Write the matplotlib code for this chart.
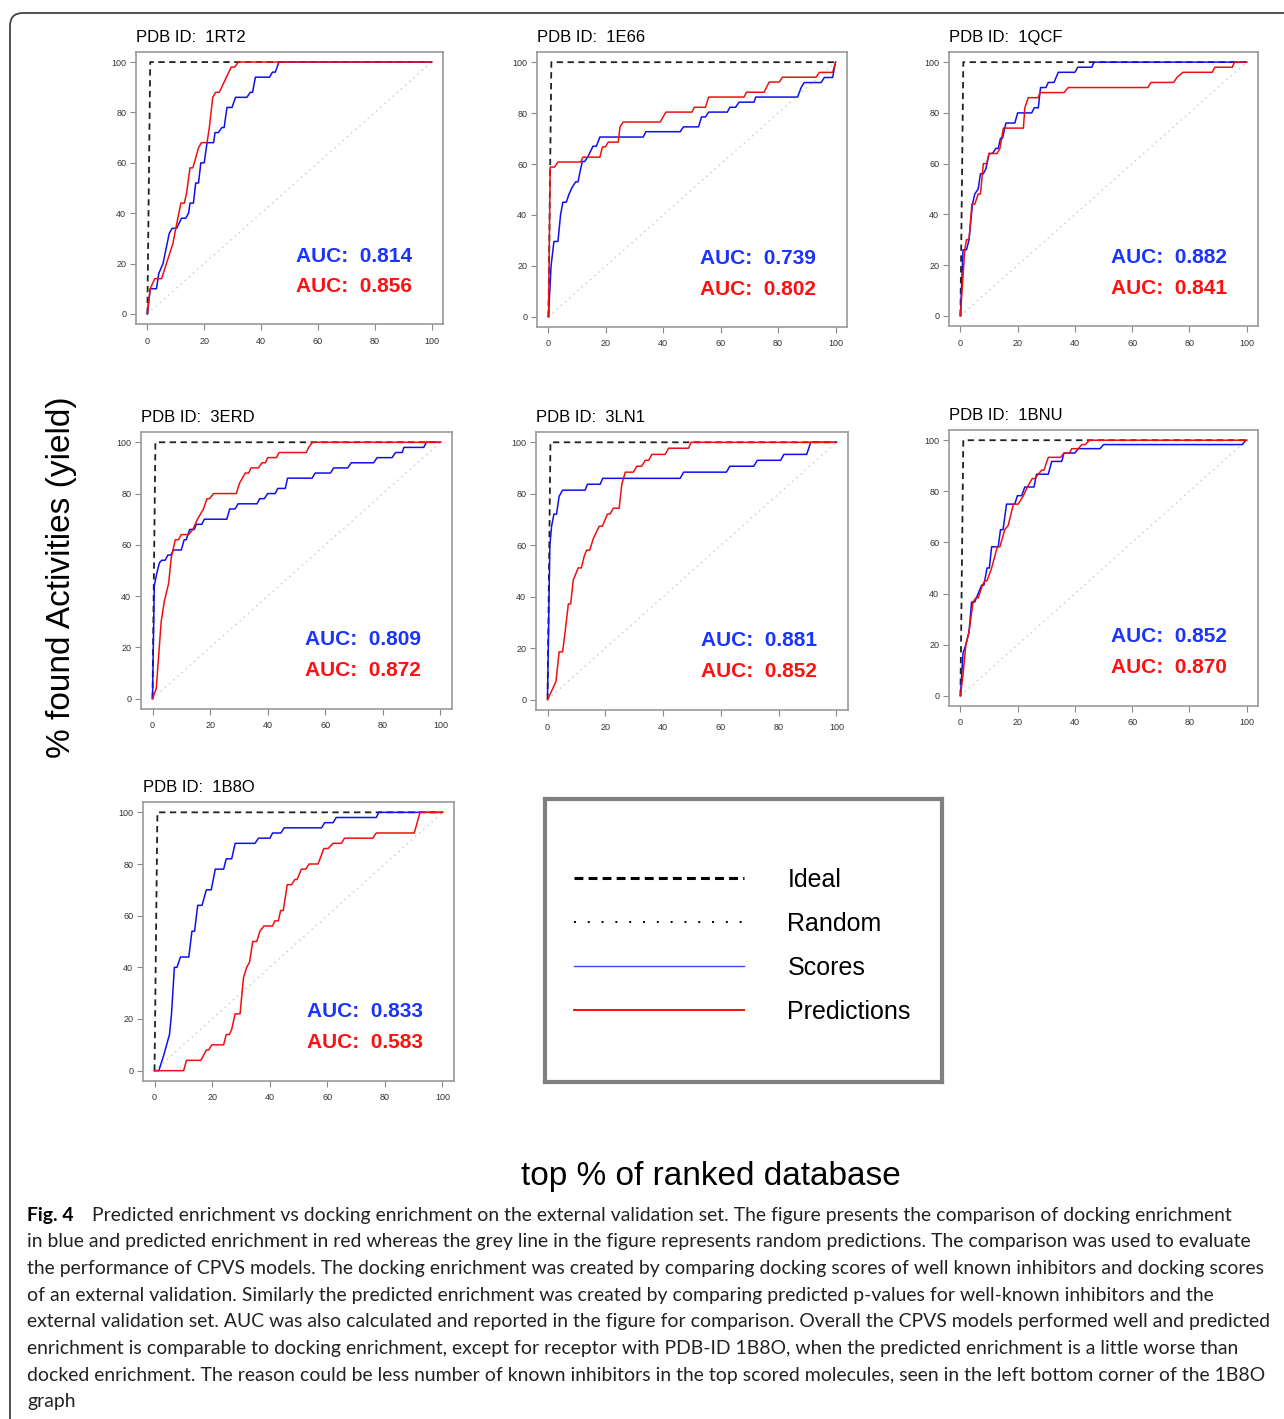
import matplotlib
matplotlib.use("Agg")
import matplotlib.pyplot as plt
from matplotlib.lines import Line2D
from matplotlib.patches import FancyBboxPatch

plt.rcParams['font.family'] = ['Liberation Sans', 'DejaVu Sans']

# curves: (top % of ranked database, % actives found)
rt2_scores = [(0,0),(1,10),(3.2,10),(4,16),(5.5,20),(7.7,32),(8.7,34),(10.3,34),(12,38),(13.5,38),(14.5,40),(15,44),(16.2,44),(17,52),(18,52),(18.8,60),(20,60),(21,68),(23.3,68),(23.8,72),(25,72),(26.2,74),(27,74),(28,82),(29.8,82),(31,86),(35,86),(36.2,88),(37,88),(38,94),(43,94),(44,96),(45,96),(46.3,100),(100,100)]
rt2_preds = [(0,0),(1,10),(2.6,14),(5,14),(6.7,20),(9,28),(10,34),(11.8,44),(13,44),(13.8,48),(15,58),(16,58),(18,66),(19,68),(21,68),(21.8,74),(23,86),(24,88),(25.3,88),(29.5,98),(30.7,98),(32,100),(100,100)]

e66_scores = [(0,0),(0.9,20),(1.9,29.6),(3.3,29.6),(4.2,40),(5,45),(6.2,45),(7.1,48),(8.3,51),(9.5,53),(10.3,53),(11,57),(11.8,61),(12.6,61),(13.8,63),(15.5,67),(16.7,67),(17.9,70.6),(33,70.6),(33.9,72.7),(45.9,72.7),(47,74.6),(52.3,74.6),(53.3,78.5),(54.7,78.5),(55.8,80.4),(62.3,80.4),(63.2,82.3),(65.2,82.3),(66.4,84.3),(71.6,84.3),(72.2,86.3),(86.8,86.3),(88,90),(89.1,92),(95,92),(96.1,94),(99,94),(100,100)]
e66_preds = [(0,0),(0.6,58.8),(2.1,58.8),(3.3,60.8),(11.2,60.8),(12,62.7),(17.9,62.7),(18.8,66.7),(19.8,66.7),(20.8,68.6),(24.3,68.6),(24.9,74.5),(26,76.5),(38.9,76.5),(40.9,80.4),(50,80.4),(50.8,82.3),(54.7,82.3),(55.8,86.3),(68.1,86.3),(69,88.2),(75.1,88.2),(76.9,92.2),(80.4,92.2),(81.5,94.1),(93.2,94.1),(94.4,96),(99,96),(100,100)]

qcf_scores = [(0,0),(0.9,26),(2.1,26),(3,30),(4.2,44),(5,48),(6.2,50),(7,56),(8,56),(8.9,58),(10,64),(11.2,64),(12.4,66),(13.2,66),(14,70),(14.7,70),(15.9,76),(19,76),(20,80),(24.9,80),(25.8,82),(27.2,82),(28,90),(29.9,90),(30.7,92),(32.7,92),(34.2,96),(40,96),(41,98),(45.9,98),(46.7,100),(100,100)]
qcf_preds = [(0,0),(1.5,26),(2.1,30),(3,30),(4,44),(5,44),(6.2,48),(7,48),(8,60),(9.2,60),(10,64),(12.8,64),(13.8,66),(15,74),(22,74),(22.5,82),(23.7,86),(27.2,86),(27.8,88),(36.2,88),(37.7,90),(65.5,90),(66.6,92),(74.5,92),(75.7,94),(77.8,96),(88,96),(88.9,98),(95,98),(95.8,100),(100,100)]

erd_scores = [(0,0),(0.6,44),(1.5,49),(2.4,53),(3.2,54),(4.4,54),(5.3,56),(6.4,56),(7.3,58),(10,58),(11,62),(11.7,62),(12.9,66),(14.5,66),(15.2,68),(17.1,68),(18,70),(25.8,70),(26.8,74),(28.7,74),(29.7,76),(36.3,76),(37.2,78),(38.8,78),(40,80),(42.6,80),(43.5,82),(46.1,82),(46.9,86),(55.4,86),(56.5,88),(61.8,88),(62.9,90),(67.8,90),(69,92),(76.8,92),(78,94),(83.2,94),(84.4,96),(86.7,96),(87.3,98),(94.2,98),(95.1,100),(100,100)]
erd_preds = [(0,0),(1.3,4),(3,30),(4.1,38),(5.6,45),(6.5,55),(7.9,62),(9,62),(10,64),(12.5,64),(14,66),(15.6,70),(17.7,74),(18.9,78),(19.8,78),(21.2,80),(29.1,80),(30.2,84),(32.2,88),(33.4,88),(34.2,90),(36.8,90),(38,92),(39.2,92),(40,94),(43,94),(44,96),(53.4,96),(54.2,98),(55.6,100),(100,100)]

ln1_scores = [(0,2),(0.8,60),(1.4,67.4),(2.2,72.1),(3.1,72.1),(4,79),(5.2,81.4),(13,81.4),(13.8,83.7),(18.2,83.7),(19.1,86),(45.9,86),(47.1,88.4),(61.9,88.4),(63.1,90.7),(71.4,90.7),(72.6,93),(80.7,93),(81.8,95.3),(89.7,95.3),(91.1,100),(100,100)]
ln1_preds = [(0,0),(2.9,7),(4,18.6),(5.2,18.6),(6,25.6),(7.2,37.2),(8,37.2),(8.9,46.5),(10.6,51.2),(11.7,51.2),(12.7,55.8),(13.5,58.1),(14.6,58.1),(15.9,62.8),(17.9,67.4),(19,67.4),(20.7,72.1),(21.6,72.1),(22.8,74.4),(24.8,74.4),(25.7,83.7),(26.9,88.4),(29.7,88.4),(30.9,90.7),(32.6,90.7),(33.8,93),(35,93),(36.1,95.3),(40.7,95.3),(41.9,97.7),(48.8,97.7),(49.7,100),(100,100)]

bnu_scores = [(0,0),(0.9,16.7),(1.9,20),(3,25),(3.9,36.7),(5,36.7),(6.2,40),(7.4,43.3),(8.2,43.3),(9.3,50),(10.1,50),(10.9,58.3),(13.2,58.3),(14,65),(14.9,65),(16.1,75),(19,75),(19.9,78.3),(21.4,78.3),(22.5,81.7),(25.7,81.7),(26.6,86.7),(30.7,86.7),(31.9,91.7),(35.4,91.7),(36.2,95),(40,95),(41.2,96.7),(48.8,96.7),(50,98.3),(98.5,98.3),(99.8,100),(100,100)]
bnu_preds = [(0,0),(0.9,8.3),(1.9,20),(3,25),(4.4,36.7),(5.4,38.3),(6.2,38.3),(7.7,43.3),(8.5,45),(9.3,45),(10.9,50),(12.9,58.3),(13.8,58.3),(15.5,65),(16.7,66.7),(18.5,75),(20.2,75),(22,78.3),(23.4,81.7),(25.1,85),(26,85),(27.2,86.7),(28.4,88.3),(29.2,88.3),(30.7,93.3),(35,93.3),(36.2,95),(38.1,95),(38.9,96.7),(41.2,96.7),(42.4,98.3),(43.6,98.3),(45.1,100),(100,100)]

b8o_scores = [(0,0),(1.5,0),(3.2,6),(5.2,14),(5.9,22),(6.9,40),(7.8,40),(9,44),(11.9,44),(13,54),(13.9,54),(15,64),(16.5,64),(18,70),(19.7,70),(21.1,78),(24,78),(24.9,82),(26.8,82),(28,88),(34.9,88),(36.1,90),(40.1,90),(41,92),(43.9,92),(45,94),(58,94),(59.1,96),(62,96),(63.1,98),(77,98),(77.9,100),(100,100)]
b8o_preds = [(0,0),(10.1,0),(11.1,4),(16.1,4),(18,8),(18.8,8),(19.9,10),(24,10),(24.9,14),(26,14),(26.8,16),(28,22),(29.7,22),(30.9,36),(32,40),(33,42),(34.1,50),(35.5,50),(36.6,54),(38,56),(41,56),(41.8,58),(43,58),(43.8,62),(44.7,62),(46.1,72),(47.6,72),(48.7,74),(49.5,74),(51,78),(52.5,78),(53.7,80),(56.8,80),(58.8,86),(60.3,86),(62,88),(64.9,88),(66,90),(75.8,90),(77,92),(90.2,92),(92.2,100),(100,100)]

pdb_ids = ['1RT2', '1E66', '1QCF', '3ERD', '3LN1', '1BNU', '1B8O']
score_curves = [rt2_scores, e66_scores, qcf_scores, erd_scores, ln1_scores, bnu_scores, b8o_scores]
pred_curves = [rt2_preds, e66_preds, qcf_preds, erd_preds, ln1_preds, bnu_preds, b8o_preds]
auc_scores = ['0.814', '0.739', '0.882', '0.809', '0.881', '0.852', '0.833']
auc_preds = ['0.856', '0.802', '0.841', '0.872', '0.852', '0.870', '0.583']

ideal_x = [0, 1, 100]
ideal_y = [0, 100, 100]
random_x = [0, 100]
random_y = [0, 100]
ticks = [0, 20, 40, 60, 80, 100]

caption_lines = [
    "Predicted enrichment vs docking enrichment on the external validation set. The figure presents the comparison of docking enrichment",
    "in blue and predicted enrichment in red whereas the grey line in the figure represents random predictions. The comparison was used to evaluate",
    "the performance of CPVS models. The docking enrichment was created by comparing docking scores of well known inhibitors and docking scores",
    "of an external validation. Similarly the predicted enrichment was created by comparing predicted p-values for well-known inhibitors and the",
    "external validation set. AUC was also calculated and reported in the figure for comparison. Overall the CPVS models performed well and predicted",
    "enrichment is comparable to docking enrichment, except for receptor with PDB-ID 1B8O, when the predicted enrichment is a little worse than",
    "docked enrichment. The reason could be less number of known inhibitors in the top scored molecules, seen in the left bottom corner of the 1B8O",
    "graph",
]

W, H = 1284, 1419
fig = plt.figure(figsize=(W / 100, H / 100), dpi=100)

# panel boxes in pixels (left, top, right, bottom)
boxes = [(136, 52, 443, 324), (537, 52, 847, 327), (949, 52, 1258, 326),
         (141, 432, 452, 709), (536, 432, 848, 710), (949, 430, 1258, 706),
         (143, 802, 454, 1081)]


def px_axes(l, t, r, b):
    return fig.add_axes([l / W, 1 - b / H, (r - l) / W, (b - t) / H])


for i, (l, t, r, b) in enumerate(boxes):
    ax = px_axes(l, t, r, b)
    ax.plot(random_x, random_y, color='#c8c8c8', lw=1.0, ls=(0, (1, 3)))
    ax.plot(ideal_x, ideal_y, color='#222222', lw=1.3, ls=(0, (3.5, 2.5)))
    sx, sy = zip(*score_curves[i])
    px, py = zip(*pred_curves[i])
    ax.plot(sx, sy, color='#1010ee', lw=1.1)
    ax.plot(px, py, color='#ee1010', lw=1.1)
    ax.set_xlim(-4, 104)
    ax.set_ylim(-4, 104)
    ax.set_xticks(ticks)
    ax.set_yticks(ticks)
    ax.tick_params(labelsize=6.5, colors='#888888', labelcolor='#333333', length=4, width=0.8, pad=3)
    ax.tick_params(axis='x', pad=5)
    for s in ax.spines.values():
        s.set_color('#999999')
        s.set_linewidth(1.2)
    ax.set_title('PDB ID:  ' + pdb_ids[i], loc='left', fontsize=12, pad=7)
    ax.text(0.9, 0.25, 'AUC:  ' + auc_scores[i], transform=ax.transAxes, ha='right', va='center',
            fontsize=15, fontweight='bold', color='#1a33ff')
    ax.text(0.9, 0.138, 'AUC:  ' + auc_preds[i], transform=ax.transAxes, ha='right', va='center',
            fontsize=15, fontweight='bold', color='#ff1010')

# legend box
lax = px_axes(545, 799, 942, 1082)
lax.set_xticks([])
lax.set_yticks([])
for s in lax.spines.values():
    s.set_color('#7f7f7f')
    s.set_linewidth(3)
handles = [Line2D([], [], color='black', lw=2.2, ls=(0, (2.9, 1.7))),
           Line2D([], [], color='black', lw=1.4, ls=(0, (1, 6.1))),
           Line2D([], [], color='#3050ff', lw=1.0),
           Line2D([], [], color='#ee1010', lw=1.4)]
lax.legend(handles, ['Ideal', 'Random', 'Scores', 'Predictions'], loc='center', frameon=False,
           fontsize=18, handlelength=6.8, handletextpad=1.75, labelspacing=0.8,
           bbox_to_anchor=(0.497, 0.482))

fig.text(62 / W, 1 - 577 / H, '% found Activities (yield)', rotation=90, ha='center', va='center', fontsize=24)
fig.text(711 / W, 1 - 1177 / H, 'top % of ranked database', ha='center', va='center', fontsize=24)

# rounded frame around the figure
frame = FancyBboxPatch((10 / 100, -1.0), 14.0, (H - 13) / 100 + 1.0,
                       boxstyle='round,pad=0,rounding_size=0.13',
                       transform=fig.dpi_scale_trans, fill=False, ec='#444444', lw=1.3)
fig.patches.append(frame)

# caption, sized so the longest line spans the reference width
cap_font = ['Lato', 'DejaVu Sans']
renderer = fig.canvas.get_renderer()
probe = fig.text(0, 0, caption_lines[4], fontsize=12, family=cap_font)
cap_size = 12 * 1235 / probe.get_window_extent(renderer).width
probe.remove()

fig.text(27 / W, 1 - 1215 / H, 'Fig. 4', fontsize=cap_size, family=cap_font, fontweight='bold', va='center')
for k, line in enumerate(caption_lines):
    x0 = 92 if k == 0 else 27
    fig.text(x0 / W, 1 - (1215 + k * 26.7) / H, line, fontsize=cap_size, family=cap_font,
             va='center', color='#222222')

fig.savefig('out.png', dpi=100)
